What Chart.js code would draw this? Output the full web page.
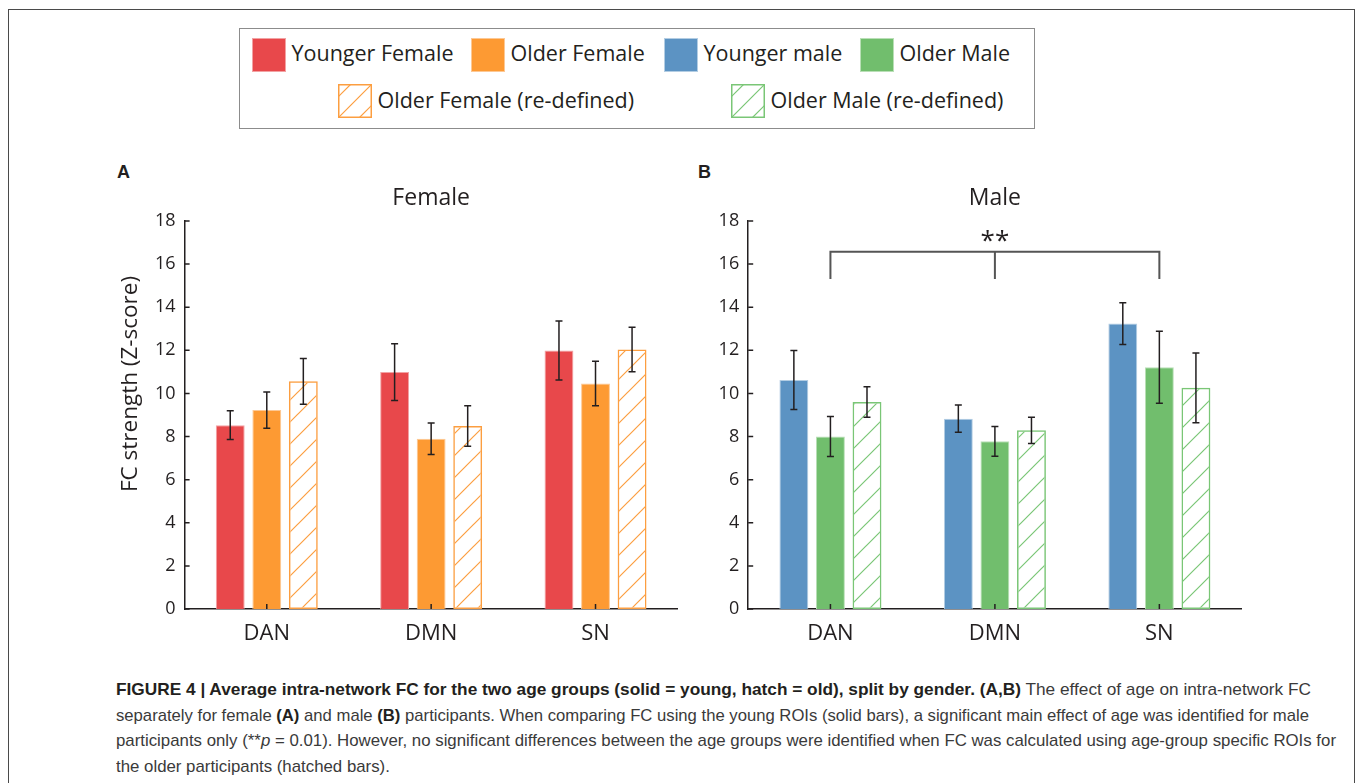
<!DOCTYPE html>
<html>
<head>
<meta charset="utf-8">
<title>FC strength by age group</title>
<script src="https://cdn.jsdelivr.net/npm/chart.js@4.4.1/dist/chart.umd.min.js"></script>
<style>
  html, body { margin: 0; padding: 0; background: #fff; }
  body { width: 1358px; height: 783px; position: relative; overflow: hidden; font-family: 'Open Sans', sans-serif; color: #231F20; }
  .frame { position: absolute; left: 8px; top: 9px; width: 1347px; height: 790px; border: 1.5px solid #4a4a4a; box-sizing: border-box; }
  .legend { position: absolute; left: 239px; top: 28px; width: 796px; height: 101px; border: 1.5px solid #8c8c8c; box-sizing: border-box; }
  .sw { position: absolute; width: 34px; height: 34px; box-sizing: border-box; border: 1px solid; }
  .lt { position: absolute; font-size: 21.5px; line-height: 22px; white-space: nowrap; }
  .panel { position: absolute; font-family: 'Liberation Sans', Arial, sans-serif; font-weight: bold; font-size: 18px; line-height: 18px; }
  canvas.chart { position: absolute; top: 150px; }
  .caption { position: absolute; left: 116px; top: 677px; font-family: 'Liberation Sans Narrow', 'Liberation Sans', Arial, sans-serif; font-size: 17px; line-height: 25.5px; color: #3a3a3a; }
  .caption .ln { display: block; white-space: nowrap; transform-origin: 0 50%; width: max-content; }
  .caption b { color: #231F20; }
</style>
</head>
<body>
<div class="frame"></div>
<div class="legend" id="legend"></div>
<div class="panel" style="left:117px;top:163px;">A</div>
<div class="panel" style="left:698px;top:163px;">B</div>
<canvas class="chart" id="femaleChart" width="600" height="520" style="left:100px;"></canvas>
<canvas class="chart" id="maleChart" width="600" height="520" style="left:690px;"></canvas>
<div class="caption">
  <span class="ln"><b>FIGURE 4 | Average intra-network FC for the two age groups (solid = young, hatch = old), split by gender. (A,B)</b> The effect of age on intra-network FC</span>
  <span class="ln">separately for female <b>(A)</b> and male <b>(B)</b> participants. When comparing FC using the young ROIs (solid bars), a significant main effect of age was identified for male</span>
  <span class="ln">participants only (**<i>p</i> = 0.01). However, no significant differences between the age groups were identified when FC was calculated using age-group specific ROIs for</span>
  <span class="ln">the older participants (hatched bars).</span>
</div>
<script>
// valeurs
const categories = ['DAN', 'DMN', 'SN'];

const youngerFemale = [8.53, 10.99, 11.99];
const youngerFemaleErr = [0.67, 1.32, 1.37];
const olderFemale = [9.23, 7.90, 10.46];
const olderFemaleErr = [0.84, 0.73, 1.03];
const olderFemaleRedef = [10.56, 8.49, 12.04];
const olderFemaleRedefErr = [1.06, 0.94, 1.03];

const youngerMale = [10.62, 8.83, 13.24];
const youngerMaleErr = [1.37, 0.63, 0.97];
const olderMale = [8.00, 7.78, 11.22];
const olderMaleErr = [0.93, 0.69, 1.67];
const olderMaleRedef = [9.60, 8.29, 10.26];
const olderMaleRedefErr = [0.71, 0.61, 1.62];

const yMin = 0, yMax = 18, yStep = 2;

// bracket over the male panel (**p = 0.01)
const sigFrom = 'DAN', sigMid = 'DMN', sigTo = 'SN';
const sigTop = 16.57, sigBottom = 15.31, sigLabel = '**';

const legendLabels = ['Younger Female', 'Older Female', 'Younger male', 'Older Male',
                      'Older Female (re-defined)', 'Older Male (re-defined)'];

const ink = '#231F20';
const font = "'Open Sans', sans-serif";
const colors = {
    red: '#E8484B', redEdge: '#F2A2A3',
    orange: '#FD9A33', orangeEdge: '#FDC894',
    blue: '#5C93C3', blueEdge: '#B3CDE3',
    green: '#71BE6D', greenEdge: '#B9DFB6',
    orangeHatch: '#FC9E40', greenHatch: '#7AC676'
};

// motif hachuré "/"
function hatch(color, size, width) {
    const c = document.createElement('canvas');
    c.width = size; c.height = size;
    const g = c.getContext('2d');
    g.strokeStyle = color;
    g.lineWidth = width;
    g.beginPath();
    g.moveTo(0, size); g.lineTo(size, 0);
    g.moveTo(-size / 2, size / 2); g.lineTo(size / 2, -size / 2);
    g.moveTo(size / 2, size * 1.5); g.lineTo(size * 1.5, size / 2);
    g.stroke();
    return g.createPattern(c, 'repeat');
}

// legende HTML
const legendSw = [
    { left: 12, top: 9, fill: colors.red, edge: colors.redEdge },
    { left: 231, top: 9, fill: colors.orange, edge: colors.orangeEdge },
    { left: 424, top: 9, fill: colors.blue, edge: colors.blueEdge },
    { left: 620, top: 9, fill: colors.green, edge: colors.greenEdge },
    { left: 98, top: 55, hatch: colors.orangeHatch },
    { left: 491, top: 55, hatch: colors.greenHatch }
];
const legendEl = document.getElementById('legend');
legendSw.forEach((s, i) => {
    let sw;
    if (s.hatch) {
        sw = document.createElement('canvas');
        sw.width = 34; sw.height = 34;
        const g = sw.getContext('2d');
        g.strokeStyle = s.hatch; g.lineWidth = 1.2;
        g.beginPath();
        [-21, 0, 21].forEach(k => { g.moveTo(k, 34); g.lineTo(k + 34, 0); });
        g.stroke();
        g.lineWidth = 1.5;
        g.strokeRect(0.75, 0.75, 32.5, 32.5);
        sw.style.position = 'absolute';
    } else {
        sw = document.createElement('div');
        sw.className = 'sw';
        sw.style.background = s.fill;
        sw.style.borderColor = s.edge;
    }
    sw.style.left = s.left + 'px';
    sw.style.top = s.top + 'px';
    legendEl.appendChild(sw);
    const t = document.createElement('div');
    t.className = 'lt';
    t.textContent = legendLabels[i];
    t.style.left = (s.left + 39.5) + 'px';
    t.style.top = (s.top + (i < 4 ? 4 : 5)) + 'px';
    legendEl.appendChild(t);
});

// barres d'erreur
const errorBars = {
    id: 'errorBars',
    afterDatasetsDraw(chart) {
        const { ctx, scales: { y } } = chart;
        ctx.save();
        ctx.strokeStyle = ink;
        ctx.lineWidth = 1.5;
        chart.data.datasets.forEach((ds, i) => {
            chart.getDatasetMeta(i).data.forEach((bar, j) => {
                const hi = y.getPixelForValue(ds.data[j] + ds.errors[j]);
                const lo = y.getPixelForValue(ds.data[j] - ds.errors[j]);
                ctx.beginPath();
                ctx.moveTo(bar.x, hi); ctx.lineTo(bar.x, lo);
                ctx.moveTo(bar.x - 3.5, hi); ctx.lineTo(bar.x + 3.5, hi);
                ctx.moveTo(bar.x - 3.5, lo); ctx.lineTo(bar.x + 3.5, lo);
                ctx.stroke();
            });
        });
        ctx.restore();
    }
};

// petites graduations vers l'intérieur
const innerTicks = {
    id: 'innerTicks',
    afterDraw(chart) {
        const { ctx, scales: { x, y } } = chart;
        ctx.save();
        ctx.strokeStyle = ink;
        ctx.lineWidth = 1.5;
        ctx.beginPath();
        y.ticks.forEach((t, i) => {
            const py = y.getPixelForTick(i);
            ctx.moveTo(x.left, py); ctx.lineTo(x.left + 5, py);
        });
        x.ticks.forEach((t, i) => {
            const px = x.getPixelForTick(i);
            ctx.moveTo(px, y.bottom); ctx.lineTo(px, y.bottom - 5);
        });
        ctx.stroke();
        ctx.restore();
    }
};

// titre de l'axe Y
const sideTitle = {
    id: 'sideTitle',
    afterDraw(chart, args, opts) {
        if (!opts.text) return;
        const { ctx, chartArea } = chart;
        ctx.save();
        ctx.translate(chartArea.left + opts.dx, opts.cy);
        ctx.rotate(-Math.PI / 2);
        ctx.fillStyle = ink;
        ctx.font = opts.size + 'px ' + font;
        ctx.textAlign = 'center';
        ctx.textBaseline = 'middle';
        ctx.fillText(opts.text, 0, 0);
        ctx.restore();
    }
};

// crochet de significativité
const sigBracket = {
    id: 'sigBracket',
    afterDraw(chart, args, opts) {
        if (!opts.show) return;
        const { ctx, scales: { x, y } } = chart;
        const x1 = x.getPixelForValue(categories.indexOf(sigFrom));
        const xm = x.getPixelForValue(categories.indexOf(sigMid));
        const x2 = x.getPixelForValue(categories.indexOf(sigTo));
        const yt = y.getPixelForValue(sigTop);
        const yb = y.getPixelForValue(sigBottom);
        ctx.save();
        ctx.strokeStyle = '#555';
        ctx.lineWidth = 2;
        ctx.beginPath();
        ctx.moveTo(x1, yb); ctx.lineTo(x1, yt); ctx.lineTo(x2, yt); ctx.lineTo(x2, yb);
        ctx.moveTo(xm, yt); ctx.lineTo(xm, yb);
        ctx.stroke();
        ctx.fillStyle = ink;
        ctx.font = '26px ' + font;
        ctx.textAlign = 'center';
        ctx.textBaseline = 'alphabetic';
        ctx.fillText(sigLabel, xm, yt - 3);
        ctx.restore();
    }
};

function solid(values, errs, fill, edge) {
    return { data: values, errors: errs, backgroundColor: fill, borderColor: edge, borderWidth: 1,
             categoryPercentage: 0.667, barPercentage: 0.79 };
}
function hatched(values, errs, color) {
    return { data: values, errors: errs, backgroundColor: hatch(color, 22, 1.2), borderColor: color,
             borderWidth: 1.5, borderSkipped: false, categoryPercentage: 0.667, barPercentage: 0.79 };
}

// axisW: largeur de l'axe Y (position de la zone du graphique)
function crearChart(id, datasets, title, axisW, rightPad, extra) {
    new Chart(document.getElementById(id), {
        type: 'bar',
        data: { labels: categories, datasets: datasets },
        options: {
            responsive: false,
            animation: false,
            layout: { padding: { left: 0, right: rightPad, top: 0, bottom: 0 } },
            plugins: {
                legend: { display: false },
                tooltip: { enabled: false },
                title: {
                    display: true, text: title, color: ink, fullSize: false,
                    font: { family: font, size: 23, weight: 'normal' },
                    padding: { top: 34.9, bottom: 8.5 }
                },
                sideTitle: extra.sideTitle || {},
                sigBracket: extra.sigBracket || {}
            },
            scales: {
                x: {
                    grid: { display: false, drawTicks: false },
                    border: { display: true, color: ink, width: 1.5 },
                    ticks: { color: ink, font: { family: font, size: 22 }, padding: 12 },
                    afterFit: s => { s.height = 61; }
                },
                y: {
                    min: yMin, max: yMax,
                    grid: { display: false, drawTicks: false },
                    border: { display: true, color: ink, width: 1.5 },
                    ticks: { stepSize: yStep, color: ink, font: { family: font, size: 18 }, padding: 9 },
                    afterFit: s => { s.width = axisW; }
                }
            }
        },
        plugins: [errorBars, innerTicks, sideTitle, sigBracket]
    });
}

crearChart('femaleChart', [
    solid(youngerFemale, youngerFemaleErr, colors.red, colors.redEdge),
    solid(olderFemale, olderFemaleErr, colors.orange, colors.orangeEdge),
    hatched(olderFemaleRedef, olderFemaleRedefErr, colors.orangeHatch)
], 'Female', 84.6, 22.3,
   { sideTitle: { text: 'FC strength (Z-score)', dx: -53.6, cy: 234, size: 22.5 } });

crearChart('maleChart', [
    solid(youngerMale, youngerMaleErr, colors.blue, colors.blueEdge),
    solid(olderMale, olderMaleErr, colors.green, colors.greenEdge),
    hatched(olderMaleRedef, olderMaleRedefErr, colors.greenHatch)
], 'Male', 58.2, 48.4,
   { sigBracket: { show: true } });

// ajuster la largeur des lignes de légende (police condensée)
const targets = [1195, 1193, 1220];
const lines = document.querySelectorAll('.caption .ln');
let lastScale = 1;
lines.forEach((ln, i) => {
    const w = ln.getBoundingClientRect().width;
    const s = targets[i] ? targets[i] / w : lastScale;
    ln.style.transform = 'scaleX(' + s + ')';
    lastScale = s;
});
</script>
</body>
</html>
